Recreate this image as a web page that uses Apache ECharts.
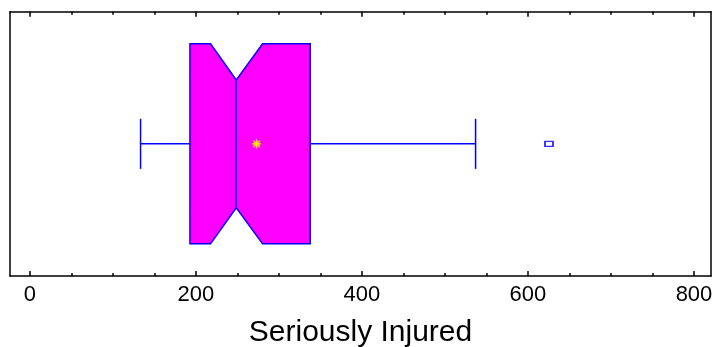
<!DOCTYPE html>
<html>
<head>
<meta charset="utf-8">
<script src="https://cdn.jsdelivr.net/npm/echarts@6/dist/echarts.min.js"></script>
<style>
  html, body { margin: 0; padding: 0; background: #fff; }
  #chart { width: 712px; height: 347px; }
</style>
</head>
<body>
<div id="chart"></div>
<script>
// five-number summary + notch of "Seriously Injured"
const boxStats = [133.3, 192.8, 248.6, 337.7, 536.9]; // min, Q1, median, Q3, max
const notch = [217.6, 280.3];                          // notch low, notch high
const meanValue = [273.1];
const outliers = [625.3];
const majorTicks = [0, 200, 400, 600, 800];
const minorTicks = [50, 100, 150, 250, 300, 350, 450, 500, 550, 650, 700, 750];
const axisRange = [-24, 820.5];

const chart = echarts.init(document.getElementById('chart'));

const BOX_HALF = 100, NOTCH_DEPTH = 36, CAP_HALF = 25;
const blue = '#0000ff';

function renderBox(params, api) {
  const [mn, q1, md, q3, mx, nLo, nHi] = [0, 1, 2, 3, 4, 5, 6].map(i => api.value(i));
  const x = v => api.coord([v, 0.5])[0];
  const cy = api.coord([0, 0.5])[1];
  const top = cy - BOX_HALF, bot = cy + BOX_HALF;
  const lineStyle = { stroke: blue, lineWidth: 1.5 };
  return {
    type: 'group',
    children: [
      { type: 'line', shape: { x1: x(mn), y1: cy, x2: x(q1), y2: cy }, style: lineStyle },
      { type: 'line', shape: { x1: x(q3), y1: cy, x2: x(mx), y2: cy }, style: lineStyle },
      { type: 'line', shape: { x1: x(mn), y1: cy - CAP_HALF, x2: x(mn), y2: cy + CAP_HALF }, style: lineStyle },
      { type: 'line', shape: { x1: x(mx), y1: cy - CAP_HALF, x2: x(mx), y2: cy + CAP_HALF }, style: lineStyle },
      {
        type: 'polygon',
        shape: {
          points: [
            [x(q1), top], [x(nLo), top], [x(md), top + NOTCH_DEPTH], [x(nHi), top], [x(q3), top],
            [x(q3), bot], [x(nHi), bot], [x(md), bot - NOTCH_DEPTH], [x(nLo), bot], [x(q1), bot]
          ]
        },
        style: { fill: '#ff00ff', stroke: blue, lineWidth: 1.5 }
      },
      { type: 'line', shape: { x1: x(md), y1: top + NOTCH_DEPTH, x2: x(md), y2: bot - NOTCH_DEPTH }, style: lineStyle }
    ]
  };
}

function renderMean(params, api) {
  const p = api.coord([api.value(0), 0.5]);
  const r = 4.5, d = r * 0.7;
  const st = { stroke: '#ffe600', lineWidth: 1.5 };
  return {
    type: 'group',
    children: [
      { type: 'line', shape: { x1: p[0] - r, y1: p[1], x2: p[0] + r, y2: p[1] }, style: st },
      { type: 'line', shape: { x1: p[0], y1: p[1] - r, x2: p[0], y2: p[1] + r }, style: st },
      { type: 'line', shape: { x1: p[0] - d, y1: p[1] - d, x2: p[0] + d, y2: p[1] + d }, style: st },
      { type: 'line', shape: { x1: p[0] - d, y1: p[1] + d, x2: p[0] + d, y2: p[1] - d }, style: st }
    ]
  };
}

const baseX = {
  type: 'value',
  min: axisRange[0],
  max: axisRange[1],
  splitLine: { show: false },
  axisLine: { show: false }
};
const tickAxis = (pos, values, len, withLine, withLabel) => Object.assign({}, baseX, {
  position: pos,
  axisLine: { show: withLine, lineStyle: { color: '#000', width: 1.5 } },
  axisTick: { show: true, inside: true, length: len, customValues: values, lineStyle: { color: '#000', width: 1.5 } },
  axisLabel: withLabel
    ? { show: true, customValues: values, fontSize: 22, color: '#000', margin: 8, fontFamily: 'Liberation Sans, Arial, sans-serif' }
    : { show: false }
});

const bottomMajor = tickAxis('bottom', majorTicks, 5, true, true);
bottomMajor.name = 'Seriously Injured';
bottomMajor.nameLocation = 'middle';
bottomMajor.nameGap = 42;
bottomMajor.nameTextStyle = { fontSize: 30, color: '#000', fontFamily: 'Liberation Sans, Arial, sans-serif' };

const sideY = pos => ({
  type: 'value', position: pos, min: 0, max: 1,
  axisLine: { show: true, onZero: false, lineStyle: { color: '#000', width: 1.5 } },
  axisTick: { show: false }, axisLabel: { show: false }, splitLine: { show: false }
});

const option = {
  animation: false,
  backgroundColor: '#fff',
  grid: { left: 10, right: 1, top: 11.7, bottom: 71, outerBoundsMode: 'none', containLabel: false },
  xAxis: [
    bottomMajor,
    tickAxis('bottom', minorTicks, 3, false, false),
    tickAxis('top', majorTicks, 5, true, false),
    tickAxis('top', minorTicks, 3, false, false)
  ],
  yAxis: [sideY('left'), sideY('right')],
  series: [
    {
      type: 'custom',
      renderItem: renderBox,
      data: [[...boxStats, ...notch]],
      encode: { x: [0, 1, 2, 3, 4, 5, 6] }
    },
    {
      type: 'scatter',
      data: outliers.map(v => [v, 0.5]),
      symbol: 'rect',
      symbolSize: [8, 5],
      itemStyle: { color: '#fff', borderColor: blue, borderWidth: 1.5 }
    },
    {
      type: 'custom',
      renderItem: renderMean,
      data: meanValue.map(v => [v]),
      encode: { x: 0 },
      z: 5
    }
  ]
};

chart.setOption(option);
</script>
</body>
</html>
